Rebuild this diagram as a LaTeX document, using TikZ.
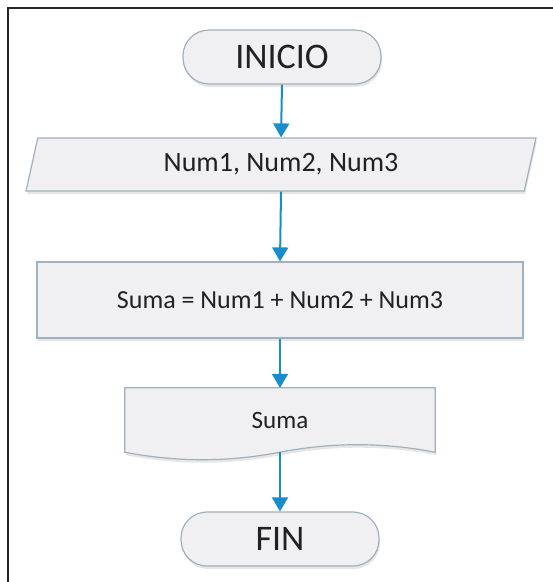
\documentclass[tikz,border=0pt]{standalone}
\usepackage{fontspec}
\setmainfont{Carlito}
\usetikzlibrary{shadows, positioning, shapes.geometric, arrows.meta}
\definecolor{flujoazul}{rgb}{0.10, 0.55, 0.80}
\definecolor{cajafondo}{rgb}{0.94, 0.94, 0.95}
\definecolor{cajaborde}{rgb}{0.62, 0.70, 0.74}
\definecolor{textogris}{rgb}{0.13, 0.13, 0.13}
\def\anchopag{553}
\def\altopag{582}
\def\ola{10}
\pgfdeclarelayer{fondo}
\pgfsetlayers{fondo,main}

\tikzset{
  caja/.style={draw=cajaborde, fill=cajafondo, line width=1.2pt, text=textogris,
    drop shadow={shadow xshift=1pt, shadow yshift=-3pt, opacity=0.2, fill=black!50}},
  terminal/.style={caja, rectangle, rounded corners=26pt, minimum width=198pt, minimum height=54pt,
    font=\fontsize{36}{40}\selectfont},
  entrada/.style={caja, trapezium, trapezium left angle=67.5, trapezium right angle=112.5,
    trapezium stretches body, minimum width=510pt, minimum height=53pt, font=\fontsize{28}{32}\selectfont},
  proceso/.style={caja, rectangle, minimum width=486pt, minimum height=76pt, font=\fontsize{26}{30}\selectfont},
  documento/.style={rectangle, minimum width=310pt, minimum height=64pt, text=textogris,
    font=\fontsize{25}{30}\selectfont},
  flecha/.style={draw=flujoazul, line width=2pt, -{Triangle[length=14pt, width=16pt]}, flujoazul}
}

\begin{document}
\begin{tikzpicture}[x=1pt, y=-1pt]
  \useasboundingbox (0,0) rectangle (\anchopag,\altopag);
  % marco
  \draw[black!85, line width=1.4pt] (8,\altopag) -- (8,8) -- (\anchopag,8);

  % bloques
  \node[terminal] (inicio) at (282,57) {INICIO};
  \node[entrada] (datos) at (281,164.5) {Num1, Num2, Num3};
  \node[proceso] (suma) at (280,300) {Suma = Num1 + Num2 + Num3};
  \node[documento] (salida) at (280,420) {Suma};
  \node[terminal] (fin) at (280,539) {FIN};

  % forma de documento
  \begin{pgfonlayer}{fondo}
    \draw[caja] (salida.north west) -- (salida.north east) -- (salida.south east)
      .. controls +(-52,-\ola) and +(52,-\ola) .. (salida.south)
      .. controls +(-52,\ola) and +(52,\ola) .. (salida.south west) -- cycle;
  \end{pgfonlayer}

  % flechas
  \draw[flecha] (inicio.south) -- (datos.north);
  \draw[flecha] (datos.south) -- (suma.north);
  \draw[flecha] (suma.south) -- (salida.north);
  \draw[flecha] (salida.south) -- (fin.north);
\end{tikzpicture}
\end{document}
